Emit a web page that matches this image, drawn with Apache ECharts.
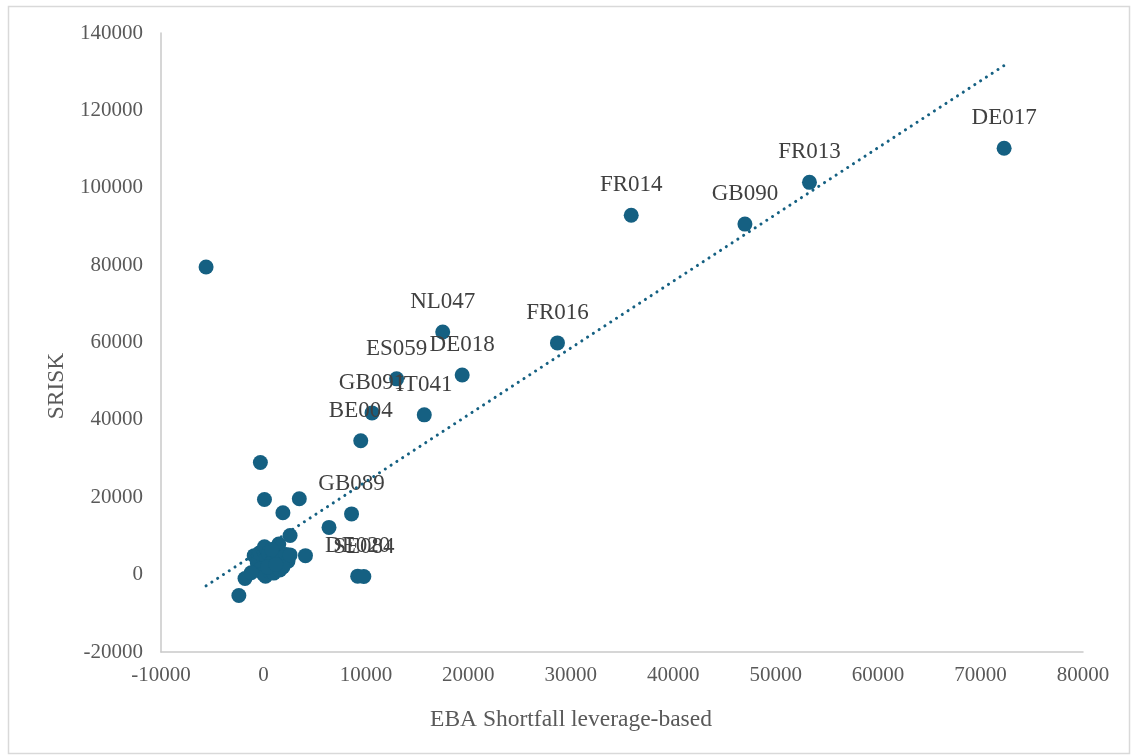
<!DOCTYPE html>
<html>
<head>
<meta charset="utf-8">
<script src="https://cdn.jsdelivr.net/npm/echarts@6/dist/echarts.min.js"></script>
<style>
html,body{margin:0;padding:0;background:#fff;}
#chart{width:1132px;height:755px;}
</style>
</head>
<body>
<div id="chart"></div>
<script>
// Labelled banks
const bankNames = ['DE017','FR013','GB090','FR014','FR016','NL047','DE018','ES059','IT041','GB091','BE004','GB089','DE020','SE084'];
const bankShortfall = [72300, 53300, 47000, 35900, 28700, 17500, 19400, 13000, 15700, 10600, 9500, 8600, 9200, 9800];
const bankSrisk = [110200, 101400, 90600, 92900, 59900, 62700, 51600, 50600, 41300, 41800, 34600, 15700, -400, -500];

// Unlabelled banks
const otherShortfall = [-5600, -300, 100, 3500, 1900, 6400, 2600, 4100, -2400, -1800,
  -900, -600, -400, 0, 100, 300, 500, 700, -300, 0, 200, 600, 900, 1100, 1300, 1500, 1700, 2000, 2200, 2400, 1000, 1600, 1900, -1200, 400, 800, 2600, 1200];
const otherSrisk = [79500, 29000, 19400, 19600, 16000, 12200, 10100, 4900, -5400, -1000,
  4900, 3000, 5600, 6300, 7200, 4200, 5500, 2500, 1500, 200, -400, 800, 3500, 1800, 5600, 7900, 4300, 2800, 5200, 3500, 400, 1200, 2000, 500, 2000, 6500, 5100, 2600];

// Linear trendline end points
const trendX = [-5600, 72300];
const trendY = [-2900, 131600];

// Axis settings
const xTicks = {min: -10000, max: 80000, interval: 10000};
const yTicks = {min: -20000, max: 140000, interval: 20000};

const COLOR = '#156082';
const FONT = '"Liberation Serif","Times New Roman",serif';

const scatterData = [];
for (let i = 0; i < otherShortfall.length; i++) {
  scatterData.push({value: [otherShortfall[i], otherSrisk[i]], name: ''});
}
for (let i = 0; i < bankNames.length; i++) {
  const d = {value: [bankShortfall[i], bankSrisk[i]], name: bankNames[i],
    label: {show: true}};
  if (bankNames[i] === 'DE017') d.label.offset = [29, 0];
  scatterData.push(d);
}

const chart = echarts.init(document.getElementById('chart'), null, {renderer: 'canvas'});
chart.setOption({
  animation: false,
  backgroundColor: '#ffffff',
  grid: {left: 161, right: 49, top: 33, bottom: 103, containLabel: false},
  xAxis: {
    type: 'value', min: xTicks.min, max: xTicks.max, interval: xTicks.interval,
    axisLine: {show: true, onZero: false, lineStyle: {color: '#c9c9c9', width: 1.5}},
    axisTick: {show: false},
    splitLine: {show: false},
    axisLabel: {color: '#595959', fontFamily: FONT, fontSize: 21, margin: 13,
      formatter: v => String(v)}
  },
  yAxis: {
    type: 'value', min: yTicks.min, max: yTicks.max, interval: yTicks.interval,
    axisLine: {show: true, onZero: false, lineStyle: {color: '#c9c9c9', width: 1.5}},
    axisTick: {show: false},
    splitLine: {show: false},
    axisLabel: {color: '#595959', fontFamily: FONT, fontSize: 21, margin: 18,
      formatter: v => String(v)}
  },
  graphic: [
    {type: 'rect', left: 6, top: 4, shape: {x: 0, y: 0, width: 1121, height: 747},
      style: {fill: 'none', stroke: '#d9d9d9', lineWidth: 1.5}, silent: true, z: -1},
    {type: 'text', x: 571, y: 720,
      style: {text: 'EBA Shortfall leverage-based', fill: '#595959', font: '23.5px ' + FONT,
        textAlign: 'center', textVerticalAlign: 'middle'}},
    {type: 'text', x: 57, y: 386, rotation: Math.PI / 2,
      style: {text: 'SRISK', fill: '#595959', font: '23.5px ' + FONT,
        textAlign: 'center', textVerticalAlign: 'middle'}}
  ],
  series: [
    {
      type: 'line',
      data: trendX.map((x, i) => [x, trendY[i]]),
      symbol: 'none',
      lineStyle: {color: COLOR, width: 3, type: [0.1, 6.8], cap: 'round'},
      z: 3,
      silent: true
    },
    {
      type: 'scatter',
      data: scatterData,
      symbolSize: 15,
      itemStyle: {color: COLOR, opacity: 1},
      label: {
        show: false, position: 'top', distance: 11,
        formatter: p => p.name,
        color: '#404040', fontFamily: FONT, fontSize: 23
      },
      labelLayout: {hideOverlap: false},
      z: 2
    }
  ]
});
</script>
</body>
</html>
